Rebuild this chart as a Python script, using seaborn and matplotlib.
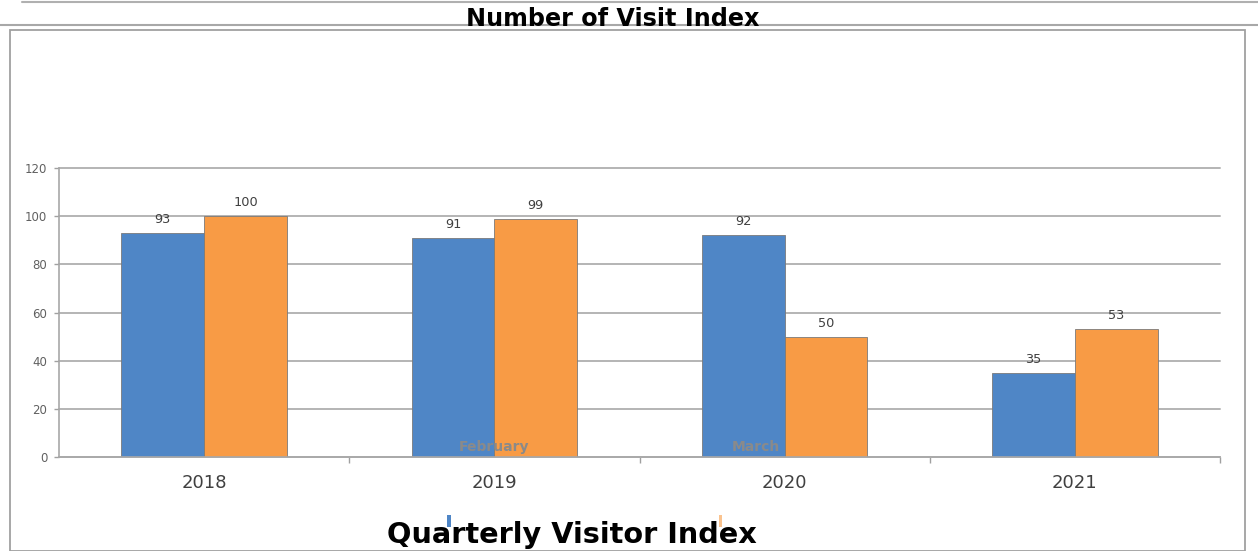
import matplotlib
matplotlib.use("Agg")
import matplotlib.pyplot as plt
import seaborn as sns
import pandas as pd
from matplotlib.patches import Rectangle
from matplotlib.lines import Line2D

years = ["2018", "2019", "2020", "2021"]
series_names = ["February", "March"]
february = [93, 91, 92, 35]
march = [100, 99, 50, 53]
yticks = [0, 20, 40, 60, 80, 100, 120]

df = pd.DataFrame({
    "Year": years * 2,
    "Series": [series_names[0]] * 4 + [series_names[1]] * 4,
    "Value": february + march,
})

sns.set_theme(style="white")
plt.rcParams["font.family"] = ["DejaVu Sans"]

W, H = 1258, 551
fig = plt.figure(figsize=(W / 100, H / 100), dpi=100)
fig.patch.set_facecolor("white")

def fx(px):
    return px / W

def fy(py):
    return 1 - py / H

ax = fig.add_axes([fx(59), fy(457), fx(1220) - fx(59), fy(168) - fy(457)])
colors = ["#4F86C6", "#F89B45"]
sns.barplot(data=df, x="Year", y="Value", hue="Series", palette=colors,
            width=0.57, dodge=True, ax=ax, legend=False,
            edgecolor="#7a7a7a", linewidth=0.6, saturation=1)

for cont in ax.containers:
    ax.bar_label(cont, fontsize=9.3, color="#404040", padding=5)

ax.set_xlim(-0.5, 3.5)
ax.set_ylim(0, 120)
ax.set_yticks(yticks)
ax.set_yticklabels([str(v) for v in yticks], fontsize=8.5, color="#606060")
ax.yaxis.grid(True, color="#b4b4b4", linewidth=1.4)
for gl in ax.get_ygridlines():
    gl.set_clip_on(False)
ax.set_axisbelow(True)
ax.set_xlabel("")
ax.set_ylabel("")
ax.tick_params(axis="x", labelsize=13, labelcolor="#404040", length=0, pad=12)
ax.tick_params(axis="y", length=3.5, color="#a0a0a0", width=1, direction="out", pad=5, left=True)
for s in ["top", "right"]:
    ax.spines[s].set_visible(False)
ax.spines["left"].set_color("#a8a8a8")
ax.spines["bottom"].set_color("#a8a8a8")
ax.spines["left"].set_linewidth(1.2)
ax.spines["bottom"].set_linewidth(1.2)

# minor ticks between categories
ax.set_xticks([0.5, 1.5, 2.5, 3.5], minor=True)
ax.tick_params(axis="x", which="minor", length=4, color="#a0a0a0", width=1, bottom=True)

# overlaid series names
ax.text(1.0, 4, series_names[0], ha="center", va="center", fontsize=10,
        fontweight="bold", color="#8a8a8a")
ax.text(1.9, 4, series_names[1], ha="center", va="center", fontsize=10,
        fontweight="bold", color="#8a8a8a")

# frame lines
fig.add_artist(Line2D([fx(22), 1], [fy(2), fy(2)], color="#b0b0b0", linewidth=1.5))
fig.add_artist(Line2D([0, 1], [fy(25), fy(25)], color="#a8a8a8", linewidth=1.5))
fig.add_artist(Rectangle((fx(10), fy(551)), fx(1245) - fx(10), fy(30) - fy(551),
                         fill=False, edgecolor="#a0a0a0", linewidth=1.3,
                         transform=fig.transFigure))

fig.text(fx(613), fy(19), "Number of Visit Index", ha="center", va="center",
         fontsize=17.2, fontweight="bold", color="black")
fig.text(fx(572), fy(535), "Quarterly Visitor Index", ha="center", va="center",
         fontsize=20.7, fontweight="bold", color="black")

# tiny legend marks
fig.add_artist(Rectangle((fx(447), fy(527)), fx(4), fy(515) - fy(527),
                         facecolor=colors[0], edgecolor="none", transform=fig.transFigure))
fig.add_artist(Rectangle((fx(719), fy(527)), fx(3), fy(515) - fy(527),
                         facecolor=colors[1], edgecolor="none", alpha=0.6,
                         transform=fig.transFigure))

fig.savefig("out.png", dpi=100, facecolor="white")
